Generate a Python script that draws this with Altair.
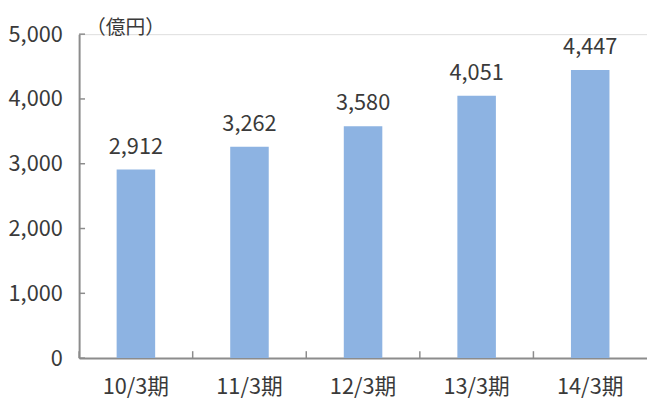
import altair as alt
import pandas as pd

categories = ["10/3期", "11/3期", "12/3期", "13/3期", "14/3期"]
values = [2912, 3262, 3580, 4051, 4447]
y_ticks = [0, 1000, 2000, 3000, 4000, 5000]
unit_label = "（億円）"

FONT = "Noto Sans CJK JP, Noto Sans, sans-serif"
AXIS_COLOR = "#8c8c8c"
TEXT_COLOR = "#3a3a3a"
BAR_COLOR = "#8db3e2"
FS = 22

df = pd.DataFrame({"cat": categories, "val": values})
df["label"] = [f"{v:,}" for v in values]
ticks_df = pd.DataFrame({"t": y_ticks})

W, H = 575, 328

x_enc = alt.X("cat:N", sort=categories, title=None,
              scale=alt.Scale(paddingInner=0, paddingOuter=0),
              axis=alt.Axis(labelAngle=0, labelFont=FONT, labelFontSize=FS,
                            labelColor=TEXT_COLOR, ticks=False, labelPadding=19,
                            domainColor=AXIS_COLOR, domainWidth=2, grid=False))
y_enc = alt.Y("val:Q", title=None,
              scale=alt.Scale(domain=[0, 5000], nice=False),
              axis=alt.Axis(values=y_ticks, format=",d", labelFont=FONT,
                            labelFontSize=FS, labelColor=TEXT_COLOR, ticks=False,
                            labelPadding=17, domainColor=AXIS_COLOR, domainWidth=2,
                            grid=False))

base = alt.Chart(df)
bars = base.mark_bar(size=39, color=BAR_COLOR).encode(x=x_enc, y=y_enc)
labels = base.mark_text(font=FONT, fontSize=FS, color=TEXT_COLOR, baseline="alphabetic",
                        dy=-16).encode(x=alt.X("cat:N", sort=categories),
                                       y="val:Q", text="label:N")

xticks = base.mark_rule(color=AXIS_COLOR, strokeWidth=1.5).encode(
    x=alt.X("cat:N", sort=categories, bandPosition=0),
    y=alt.value(H - 7), y2=alt.value(H))

yticks = alt.Chart(ticks_df).mark_rule(color=AXIS_COLOR, strokeWidth=1.5).encode(
    y=alt.Y("t:Q"), x=alt.value(0), x2=alt.value(6))

unit = alt.Chart(pd.DataFrame({"u": [unit_label], "y": [5000]})).mark_text(
    font=FONT, fontSize=20, color=TEXT_COLOR, align="left", baseline="alphabetic", dy=0
).encode(x=alt.value(7), y=alt.Y("y:Q"), text="u:N")

chart = alt.layer(bars, labels, xticks, yticks, unit).properties(
    width=W, height=H,
    autosize=alt.AutoSizeParams(type="none"),
    padding={"left": 72, "top": 24, "right": 0, "bottom": 45},
).configure_view(stroke=None).configure(background="white")

chart.save("out.html", embed_options={"renderer": "svg", "actions": False})
